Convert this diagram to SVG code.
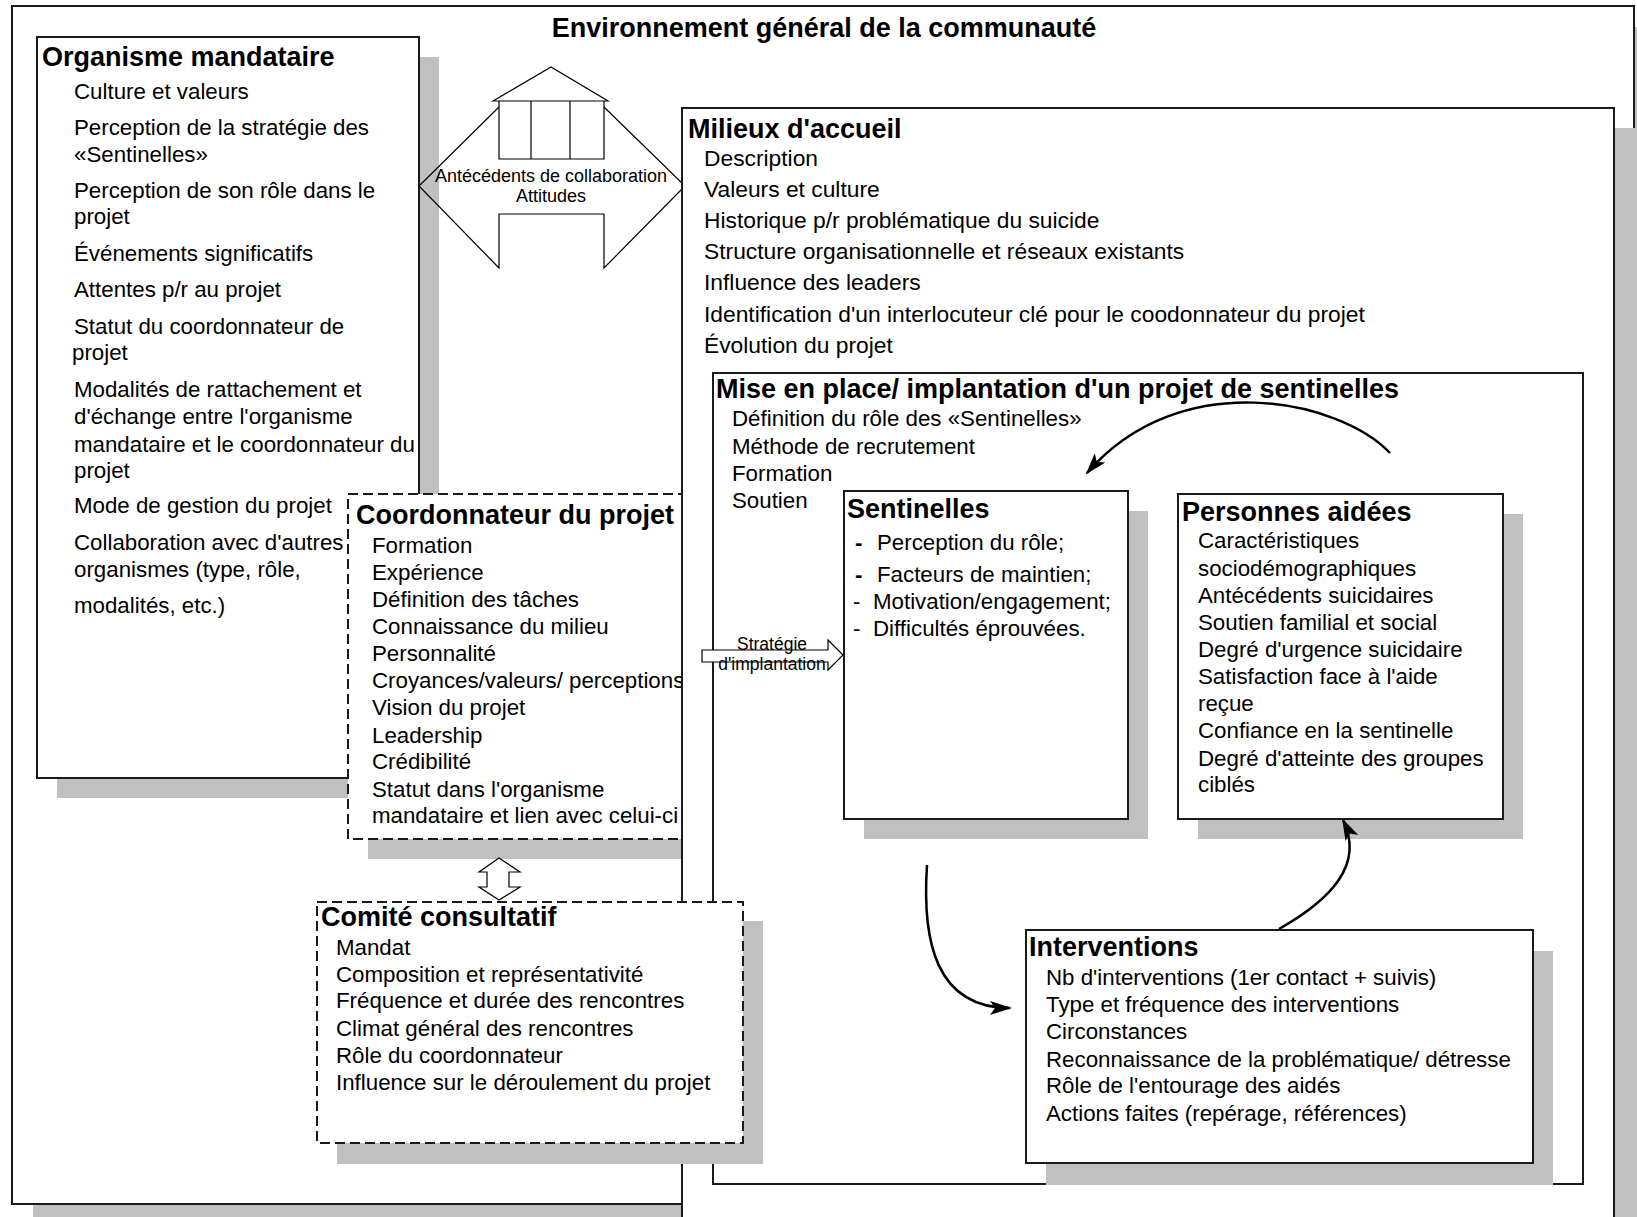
<svg xmlns="http://www.w3.org/2000/svg" width="1637" height="1217" viewBox="0 0 1637 1217">
<style>
.box{fill:#fff;stroke:#1a1a1a;stroke-width:2}
.dash{fill:#fff;stroke:#1a1a1a;stroke-width:2;stroke-dasharray:10 5}
.sh{fill:#c0c0c0}
text{font-family:"Liberation Sans",Arial,sans-serif;fill:#000}
.t{font-size:22.3px}
.tm{font-size:22.8px}
.h{font-size:27px;font-weight:bold}
.s{font-size:18px}
.ss{font-size:17.5px}
.cur{fill:none;stroke:#000;stroke-width:2.5}
.thin{fill:none;stroke:#000;stroke-width:1.2}
</style>
<defs>
<marker id="ah" markerWidth="22" markerHeight="14" refX="20" refY="7" orient="auto" markerUnits="userSpaceOnUse" viewBox="0 0 22 14">
<path d="M0,0 L22,7 L0,14 L5,7 z" fill="#000"/>
</marker>
</defs>

<g id="environnement">
<rect class="sh" x="33" y="27" width="1622" height="1198"/>
<rect class="box" x="12" y="6" width="1622" height="1198"/>
<text class="h" x="824" y="37" text-anchor="middle">Environnement général de la communauté</text>
</g>

<g id="organisme">
<rect class="sh" x="57" y="57" width="382" height="741"/>
<rect class="box" x="37" y="37" width="382" height="741"/>
<text class="h" x="42" y="66">Organisme mandataire</text>
<g class="t">
<text x="74" y="99">Culture et valeurs</text>
<text x="74" y="135">Perception de la stratégie des</text>
<text x="74" y="162">«Sentinelles»</text>
<text x="74" y="198">Perception de son rôle dans le</text>
<text x="74" y="224">projet</text>
<text x="74" y="261">Événements significatifs</text>
<text x="74" y="297">Attentes p/r au projet</text>
<text x="74" y="334">Statut du coordonnateur de</text>
<text x="72" y="360">projet</text>
<text x="74" y="397">Modalités de rattachement et</text>
<text x="74" y="424">d'échange entre l'organisme</text>
<text x="74" y="452">mandataire et le coordonnateur du</text>
<text x="74" y="478">projet</text>
<text x="74" y="513">Mode de gestion du projet</text>
<text x="74" y="550">Collaboration avec d'autres</text>
<text x="74" y="577">organismes (type, rôle,</text>
<text x="74" y="613">modalités, etc.)</text>
</g>
</g>

<g id="coordonnateur">
<rect class="sh" x="368" y="514" width="360" height="345"/>
<rect class="dash" x="348" y="494" width="360" height="345"/>
<text class="h" x="356" y="524">Coordonnateur du projet</text>
<g class="t">
<text x="372" y="553">Formation</text>
<text x="372" y="580">Expérience</text>
<text x="372" y="607">Définition des tâches</text>
<text x="372" y="634">Connaissance du milieu</text>
<text x="372" y="661">Personnalité</text>
<text x="372" y="688">Croyances/valeurs/ perceptions</text>
<text x="372" y="715">Vision du projet</text>
<text x="372" y="743">Leadership</text>
<text x="372" y="769">Crédibilité</text>
<text x="372" y="797">Statut dans l'organisme</text>
<text x="372" y="823">mandataire et lien avec celui-ci</text>
</g>
</g>

<g id="antecedents">
<path class="thin" d="M493,101 L551,67 L608,101 Z"/>
<path class="thin" d="M499,101 V159 H604 V101 M531,101 V159 M570,101 V159"/>
<path class="thin" d="M499,107 L419,186 L499,268 V214 H604 V268 L685,186 L604,107"/>
<text class="s" x="551" y="182" text-anchor="middle">Antécédents de collaboration</text>
<text class="s" x="551" y="202" text-anchor="middle">Attitudes</text>
</g>

<g id="milieux">
<rect class="sh" x="703" y="128" width="933" height="1130"/>
<rect class="box" x="682" y="108" width="932" height="1130"/>
<text class="h" x="688" y="138">Milieux d'accueil</text>
<g class="tm">
<text x="704" y="166">Description</text>
<text x="704" y="197">Valeurs et culture</text>
<text x="704" y="228">Historique p/r problématique du suicide</text>
<text x="704" y="259">Structure organisationnelle et réseaux existants</text>
<text x="704" y="290">Influence des leaders</text>
<text x="704" y="322">Identification d'un interlocuteur clé pour le coodonnateur du projet</text>
<text x="704" y="353">Évolution du projet</text>
</g>
</g>

<g id="miseenplace">
<rect class="box" x="713" y="373" width="870" height="811"/>
<text class="h" x="716" y="398">Mise en place/ implantation d'un projet de sentinelles</text>
<g class="t">
<text x="732" y="426">Définition du rôle des «Sentinelles»</text>
<text x="732" y="454">Méthode de recrutement</text>
<text x="732" y="481">Formation</text>
<text x="732" y="508">Soutien</text>
</g>
</g>

<g id="sentinelles">
<rect class="sh" x="864" y="511" width="284" height="328"/>
<rect class="box" x="844" y="491" width="284" height="328"/>
<text class="h" x="847" y="518">Sentinelles</text>
<g class="t">
<text x="855" y="550" font-weight="bold">-</text><text x="877" y="550">Perception du rôle;</text>
<text x="855" y="582" font-weight="bold">-</text><text x="877" y="582">Facteurs de maintien;</text>
<text x="853" y="609">-</text><text x="873" y="609">Motivation/engagement;</text>
<text x="853" y="636">-</text><text x="873" y="636">Difficultés éprouvées.</text>
</g>
</g>

<g id="personnes">
<rect class="sh" x="1198" y="514" width="325" height="325"/>
<rect class="box" x="1178" y="494" width="325" height="325"/>
<text class="h" x="1182" y="521">Personnes aidées</text>
<g class="t">
<text x="1198" y="548">Caractéristiques</text>
<text x="1198" y="576">sociodémographiques</text>
<text x="1198" y="603">Antécédents suicidaires</text>
<text x="1198" y="630">Soutien familial et social</text>
<text x="1198" y="657">Degré d'urgence suicidaire</text>
<text x="1198" y="684">Satisfaction face à l'aide</text>
<text x="1198" y="711">reçue</text>
<text x="1198" y="738">Confiance en la sentinelle</text>
<text x="1198" y="766">Degré d'atteinte des groupes</text>
<text x="1198" y="792">ciblés</text>
</g>
</g>

<g id="interventions">
<rect class="sh" x="1046" y="951" width="507" height="234"/>
<rect class="box" x="1026" y="930" width="507" height="233"/>
<text class="h" x="1029" y="956">Interventions</text>
<g class="t">
<text x="1046" y="985">Nb d'interventions (1er contact + suivis)</text>
<text x="1046" y="1012">Type et fréquence des interventions</text>
<text x="1046" y="1039">Circonstances</text>
<text x="1046" y="1067">Reconnaissance de la problématique/ détresse</text>
<text x="1046" y="1093">Rôle de l'entourage des aidés</text>
<text x="1046" y="1121">Actions faites (repérage, références)</text>
</g>
</g>

<g id="comite">
<rect class="sh" x="337" y="921" width="426" height="243"/>
<rect class="dash" x="317" y="902" width="426" height="241"/>
<text class="h" x="321" y="926">Comité consultatif</text>
<g class="t">
<text x="336" y="955">Mandat</text>
<text x="336" y="982">Composition et représentativité</text>
<text x="336" y="1008">Fréquence et durée des rencontres</text>
<text x="336" y="1036">Climat général des rencontres</text>
<text x="336" y="1063">Rôle du coordonnateur</text>
<text x="336" y="1090">Influence sur le déroulement du projet</text>
</g>
</g>

<g id="connectors">
<polygon points="499,858 520,872 509,872 509,887 520,887 499,900 479,887 487,887 487,872 479,872" fill="#fff" stroke="#000" stroke-width="1.2"/>
<polygon points="702,650 828,650 828,640 843,655 828,670 828,662 702,662" fill="#fff" stroke="#000" stroke-width="1.2"/>
<text class="ss" x="772" y="650" text-anchor="middle">Stratégie</text>
<text class="ss" x="772" y="670" text-anchor="middle">d'implantation</text>
<path class="cur" d="M1390,453 C1340,400 1180,365 1087,473" marker-end="url(#ah)"/>
<path class="cur" d="M927,865 C922,940 935,1008 1010,1008" marker-end="url(#ah)"/>
<path class="cur" d="M1279,929 C1330,900 1365,865 1343,820" marker-end="url(#ah)"/>
</g>
</svg>
